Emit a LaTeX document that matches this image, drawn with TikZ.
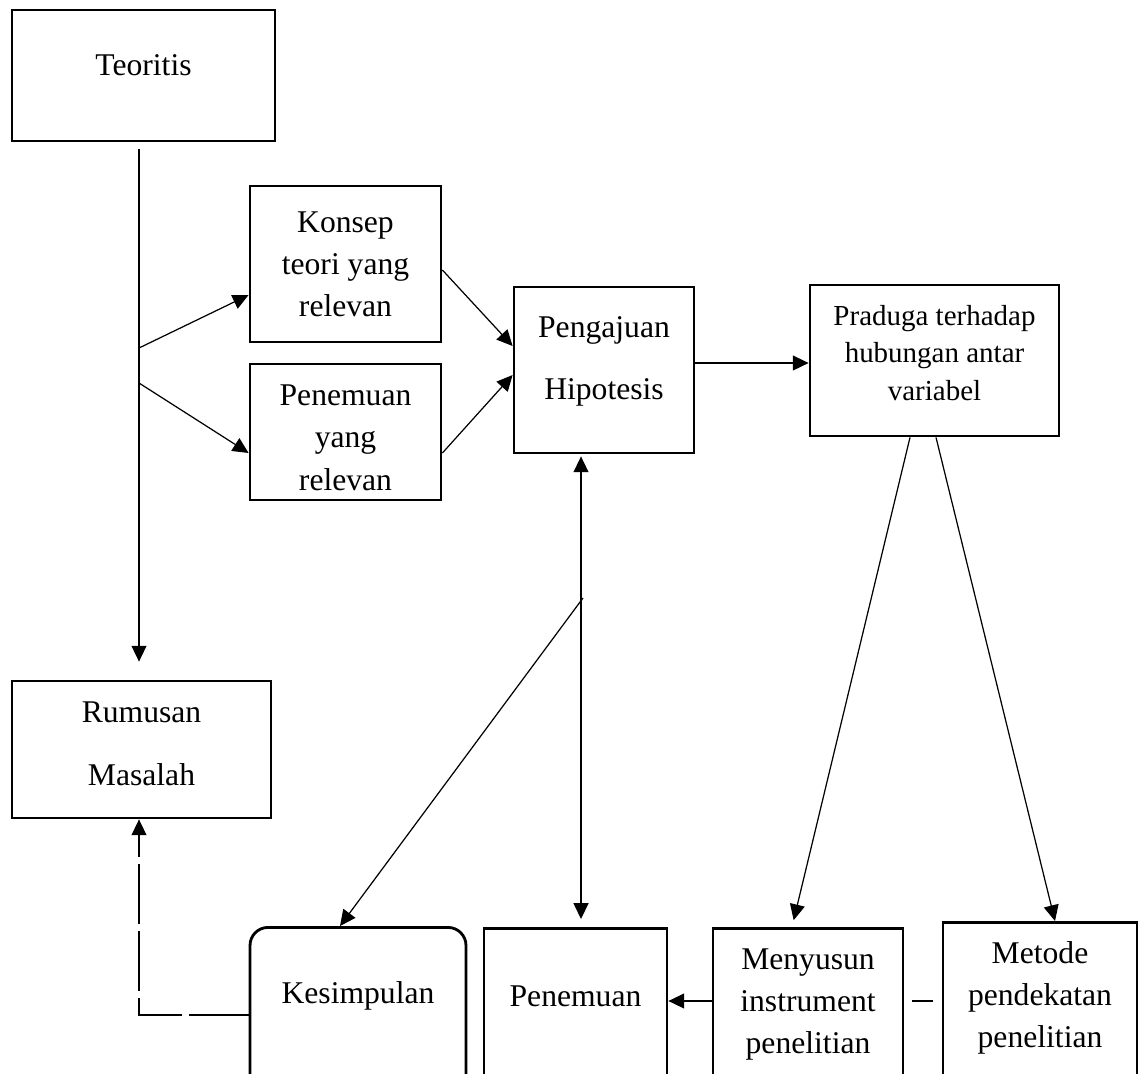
\documentclass[tikz,border=0pt]{standalone}
\usepackage{fontspec}
\setmainfont{Liberation Serif}
\usetikzlibrary{arrows.meta, positioning}

\begin{document}
\begin{tikzpicture}[
        x=0.02cm, y=-0.02cm,
        every node/.style={font=\fontsize{18}{24}\selectfont, align=center},
        box/.style={draw, rectangle, line width=1.6pt, inner sep=0pt},
        openbox/.style={box, anchor=north, inner ysep=0pt, text depth=3cm},
        link/.style={draw, line width=0.7pt},
        arr/.style={link, -{Triangle[length=9pt, width=8.5pt]}},
        dblarr/.style={link, {Triangle[length=9pt, width=8.5pt]}-{Triangle[length=9pt, width=8.5pt]}},
    ]
        \path[use as bounding box, clip] (0,0) rectangle (1138,1073);

        \node[box, minimum width=5.26cm, minimum height=2.62cm, text depth=0.4cm] (teori) at (143.5,75.5) {Teoritis};
        \node[box, minimum width=5.18cm, minimum height=2.74cm, text depth=0.23cm] (rumusan) at (141.5,749.5) {Rumusan\\[12pt]Masalah};
        \node[box, minimum width=3.82cm, minimum height=3.12cm] (konsep) at (345.5,264) {Konsep\\ teori yang\\ relevan};
        \node[box, minimum width=3.82cm, minimum height=2.72cm, text height=2.32cm, text depth=0pt] (temuan) at (345.5,432) {Penemuan\\ yang\\ relevan};
        \node[box, minimum width=3.6cm, minimum height=3.32cm, text depth=0.47cm] (hipotesis) at (604,370) {Pengajuan\\[11pt]Hipotesis};
        \node[box, minimum width=4.98cm, minimum height=3.02cm, text depth=0.31cm, font=\fontsize{16.5}{21.3}\selectfont] (praduga) at (934.5,360.5) {Praduga terhadap\\ hubungan antar\\ variabel};

        \node[openbox, rounded corners=0.36cm, minimum width=4.32cm, text height=1.52cm] (kesimpulan) at (358,926) {Kesimpulan};
        \node[openbox, minimum width=3.66cm, text height=1.56cm] (penemuan) at (575.5,927) {Penemuan};
        \node[openbox, minimum width=3.8cm, text height=2.5cm] (instrumen) at (808,927) {Menyusun\\ instrument\\ penelitian};
        \node[openbox, minimum width=3.88cm, text height=2.5cm] (metode) at (1040,921) {Metode\\ pendekatan\\ penelitian};

        \coordinate (fork1) at (139,348);
        \coordinate (fork2) at (139,383);
        \coordinate (cross) at (583,598);

        \draw[arr, shorten <=0.14cm, shorten >=0.36cm] (teori.south -| fork1) -- (rumusan.north -| fork1);
        \draw[arr] (fork1) -- ([yshift=-0.62cm]konsep.west);
        \draw[arr] (fork2) -- ([yshift=-0.42cm]temuan.west);
        \draw[arr] ([yshift=-0.12cm]konsep.east) -- ([yshift=0.48cm]hipotesis.west);
        \draw[arr] ([yshift=-0.42cm]temuan.east) -- ([yshift=-0.1cm]hipotesis.west);
        \draw[arr] ([yshift=0.14cm]hipotesis.east) -- ([yshift=0.14cm]hipotesis.east -| praduga.west);
        \draw[dblarr, shorten <=0.04cm, shorten >=0.16cm] ([xshift=-0.46cm]hipotesis.south) -- ([xshift=-0.46cm]hipotesis.south |- penemuan.north);
        \draw[arr] (cross) -- ([xshift=-0.36cm]kesimpulan.north);
        \draw[arr, shorten >=0.14cm] ([xshift=-0.49cm]praduga.south) -- ([xshift=-0.32cm]instrumen.north);
        \draw[arr] ([xshift=0.03cm]praduga.south) -- ([xshift=0.3cm]metode.north);
        \draw[arr] ([yshift=-1.48cm]instrumen.north west) -- ([yshift=-1.48cm]instrumen.north west -| penemuan.east);
        \draw[link, shorten <=0.16cm, shorten >=0.18cm] ([yshift=-1.48cm]instrumen.north east) -- ([yshift=-1.48cm]instrumen.north east -| metode.west);
        \draw[arr, dash pattern=on 1.2cm off 0.14cm] ([yshift=-1.78cm]kesimpulan.north west) -| (rumusan.south -| fork1);
\end{tikzpicture}
\end{document}
